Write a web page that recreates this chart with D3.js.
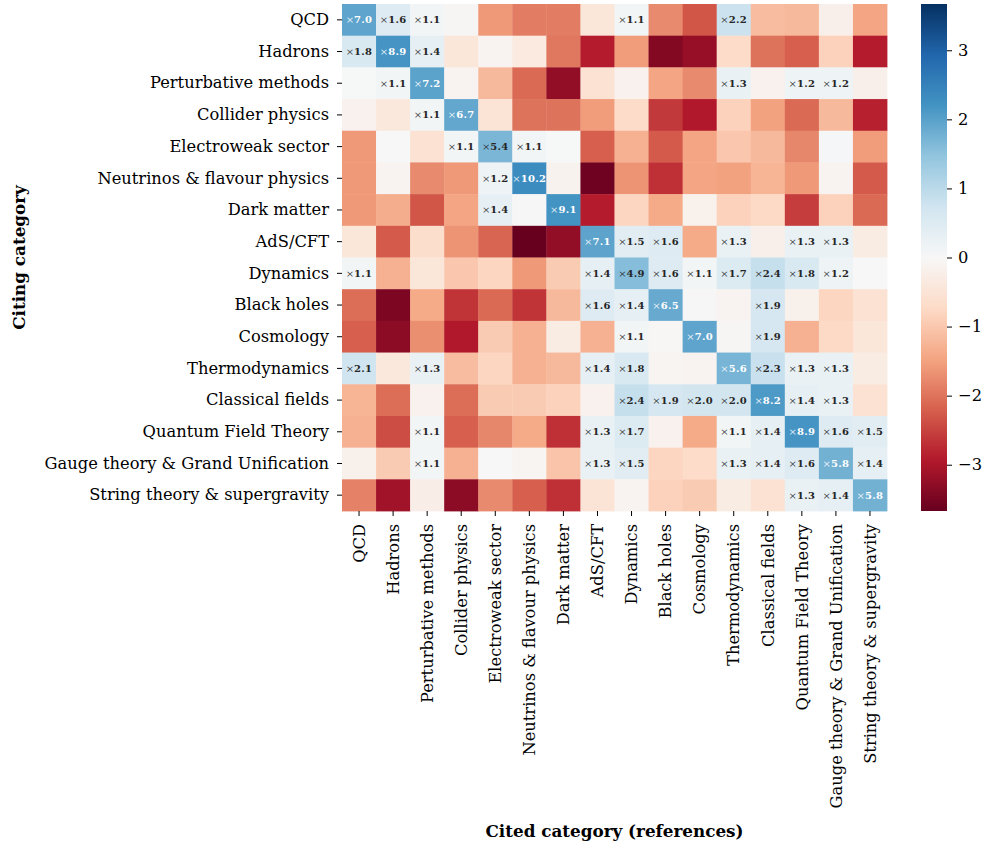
<!DOCTYPE html>
<html>
<head>
<meta charset="utf-8">
<script src="https://cdn.jsdelivr.net/npm/d3@7"></script>
<style>
  html, body { margin: 0; padding: 0; background: #fff; }
  svg { display: block; }
</style>
</head>
<body>
<svg id="chart" width="988" height="847"></svg>
<script>
// ---------------- data ----------------
const categories = [
  "QCD", "Hadrons", "Perturbative methods", "Collider physics", "Electroweak sector",
  "Neutrinos & flavour physics", "Dark matter", "AdS/CFT", "Dynamics", "Black holes",
  "Cosmology", "Thermodynamics", "Classical fields", "Quantum Field Theory",
  "Gauge theory & Grand Unification", "String theory & supergravity"
];
// log ratio (observed / expected), rows = citing category, columns = cited category
const values = [
  [ 1.946,  0.470,  0.095, -0.05, -1.60, -1.90, -1.90, -0.45,  0.095, -1.75, -2.30,  0.788, -1.15, -1.20, -0.20, -1.45],
  [ 0.588,  2.186,  0.336, -0.45, -0.10, -0.35, -1.95, -2.90, -1.55, -3.40, -3.20, -0.70, -2.00, -2.20, -0.85, -2.90],
  [ 0.02,   0.095,  1.974, -0.10, -1.20, -2.10, -3.25, -0.55, -0.15, -1.45, -1.75,  0.262, -0.15,  0.182,  0.182, -0.20],
  [-0.15,  -0.40,   0.095,  1.902, -0.50, -2.00, -2.00, -1.55, -0.70, -2.60, -2.95, -0.85, -1.50, -2.10, -1.20, -2.85],
  [-1.60,   0.00,  -0.55,   0.095,  1.686,  0.095,  0.02, -2.20, -1.30, -2.25, -1.45, -1.00, -1.20, -1.80,  0.03, -1.55],
  [-1.60,  -0.10,  -1.75,  -1.60,   0.182,  2.322, -0.12, -3.60, -1.65, -2.70, -1.45, -1.50, -1.25, -1.60, -0.10, -2.25],
  [-1.60,  -1.35,  -2.30,  -1.45,   0.336, -0.02,  2.208, -2.90, -0.80, -1.40, -0.17, -0.85, -0.75, -2.55, -0.85, -2.10],
  [-0.45,  -2.25,  -0.65,  -1.65,  -2.15, -3.67, -3.25,  1.960,  0.405,  0.470, -1.40,  0.262, -0.20,  0.262,  0.262, -0.30],
  [ 0.095, -1.30,  -0.45,  -1.00,  -0.80, -1.60, -0.95,  0.336,  1.589,  0.470,  0.095,  0.531,  0.875,  0.588,  0.182,  0.00],
  [-2.05,  -3.45,  -1.40,  -2.65,  -2.10, -2.65, -1.20,  0.470,  0.336,  1.872, -0.02, -0.10,  0.642, -0.18, -0.80, -0.55],
  [-2.20,  -3.30,  -1.70,  -2.95,  -0.95, -1.30, -0.30, -1.30,  0.095, -0.03,  1.946, -0.05,  0.642, -1.30, -0.75, -0.45],
  [ 0.742, -0.40,   0.262, -1.15,  -0.80, -1.30, -1.20,  0.336,  0.588, -0.08, -0.10,  1.723,  0.833,  0.262,  0.262, -0.30],
  [-1.25,  -2.05,  -0.15,  -2.05,  -0.95, -0.95, -0.85, -0.15,  0.875,  0.642,  0.693,  0.693,  2.104,  0.336,  0.262, -0.55],
  [-1.30,  -2.40,   0.095, -2.20,  -1.80, -1.40, -2.70,  0.262,  0.531, -0.15, -1.40,  0.095,  0.336,  2.186,  0.470,  0.405],
  [-0.18,  -0.95,   0.095, -1.30,   0.00, -0.08, -1.05,  0.262,  0.405, -0.80, -0.70,  0.262,  0.336,  0.470,  1.758,  0.336],
  [-1.85,  -3.10,  -0.25,  -3.30,  -1.75, -2.20, -2.70, -0.50, -0.10, -0.85, -0.95, -0.30, -0.55,  0.262,  0.336,  1.758]
];
const colorbarTicks = [-3, -2, -1, 0, 1, 2, 3];
const rdbu = ["#67001f","#b2182b","#d6604d","#f4a582","#fddbc7","#f7f7f7",
              "#d1e5f0","#92c5de","#4393c3","#2166ac","#053061"];
const xTitle = "Cited category (references)";
const yTitle = "Citing category";

// ---------------- layout ----------------
const svg = d3.select("#chart");
const serif = "'DejaVu Serif', serif";
const pL = 342, pR = 887, pT = 4, pB = 511;
const fs = 16.3;
const fsTitle = 16.8;

const x = d3.scaleBand().domain(categories).range([pL, pR]);
const y = d3.scaleBand().domain(categories).range([pT, pB]);

const vmax = d3.max(values.flat(), v => Math.abs(v));
const vmin = -vmax;
const color = d3.scaleLinear()
  .domain(d3.range(11).map(i => vmin + i * (vmax - vmin) / 10))
  .range(rdbu)
  .interpolate(d3.interpolateRgb)
  .clamp(true);

const cells = [];
values.forEach((row, i) => row.forEach((v, j) => cells.push({r: categories[i], c: categories[j], v})));

svg.append("g").selectAll("rect").data(cells).join("rect")
  .attr("x", d => x(d.c)).attr("y", d => y(d.r))
  .attr("width", x.bandwidth() + 0.4).attr("height", y.bandwidth() + 0.4)
  .attr("fill", d => color(d.v));

function lum(c) {
  const rgb = d3.rgb(c);
  const f = u => { u /= 255; return u <= 0.03928 ? u / 12.92 : Math.pow((u + 0.055) / 1.055, 2.4); };
  return 0.2126 * f(rgb.r) + 0.7152 * f(rgb.g) + 0.0722 * f(rgb.b);
}

const ann = svg.append("g").selectAll("text")
  .data(cells.filter(d => Math.exp(d.v) >= 1.05)).join("text")
  .attr("x", d => x(d.c) + x.bandwidth() / 2)
  .attr("y", d => y(d.r) + y.bandwidth() / 2)
  .attr("dy", "0.35em")
  .attr("text-anchor", "middle")
  .attr("font-family", serif)
  .attr("font-size", 10)
  .attr("fill", d => lum(color(d.v)) > 0.42 ? "#262626" : "#ffffff");
ann.append("tspan").attr("font-weight", "normal").attr("fill-opacity", 0.85).text("×");
ann.append("tspan").attr("font-weight", "bold").attr("letter-spacing", 0.3).text(d => Math.exp(d.v).toFixed(1));

// y axis
const yAxis = svg.append("g").attr("transform", `translate(${pL},0)`)
  .call(d3.axisLeft(y).tickSize(5).tickPadding(8));
yAxis.select(".domain").remove();
yAxis.selectAll("text").attr("font-family", serif).attr("font-size", fs).attr("fill", "#000");
yAxis.selectAll("line").attr("stroke", "#000").attr("stroke-width", 1);

// x axis
const xAxis = svg.append("g").attr("transform", `translate(0,${pB})`)
  .call(d3.axisBottom(x).tickSize(5).tickPadding(8));
xAxis.select(".domain").remove();
xAxis.selectAll("line").attr("stroke", "#000").attr("stroke-width", 1);
xAxis.selectAll("text")
  .attr("font-family", serif).attr("font-size", fs).attr("fill", "#000")
  .attr("transform", "rotate(-90)")
  .attr("x", -13).attr("y", 0).attr("dy", "0.35em")
  .attr("text-anchor", "end");

// axis titles
svg.append("text")
  .attr("transform", `translate(19,${(pT + pB) / 2}) rotate(-90)`)
  .attr("text-anchor", "middle").attr("dy", "0.35em")
  .attr("font-family", serif).attr("font-weight", "bold").attr("font-size", fsTitle)
  .text(yTitle);
svg.append("text")
  .attr("x", (pL + pR) / 2).attr("y", 837)
  .attr("text-anchor", "middle")
  .attr("font-family", serif).attr("font-weight", "bold").attr("font-size", fsTitle)
  .text(xTitle);

// colorbar
const cbX = 921, cbW = 26;
const defs = svg.append("defs");
const grad = defs.append("linearGradient").attr("id", "cbgrad")
  .attr("x1", 0).attr("y1", 1).attr("x2", 0).attr("y2", 0);
rdbu.forEach((c, i) => grad.append("stop").attr("offset", i / 10).attr("stop-color", c));
svg.append("rect").attr("x", cbX).attr("y", pT).attr("width", cbW).attr("height", pB - pT)
  .attr("fill", "url(#cbgrad)");
const cbScale = d3.scaleLinear().domain([vmin, vmax]).range([pB, pT]);
const cbAxis = svg.append("g").attr("transform", `translate(${cbX + cbW},0)`)
  .call(d3.axisRight(cbScale).tickValues(colorbarTicks).tickSize(5).tickPadding(6)
    .tickFormat(d => d < 0 ? "\u2212" + Math.abs(d) : String(d)));
cbAxis.select(".domain").remove();
cbAxis.selectAll("line").attr("stroke", "#000");
cbAxis.selectAll("text").attr("font-family", serif).attr("font-size", fs).attr("fill", "#000");
</script>
</body>
</html>
